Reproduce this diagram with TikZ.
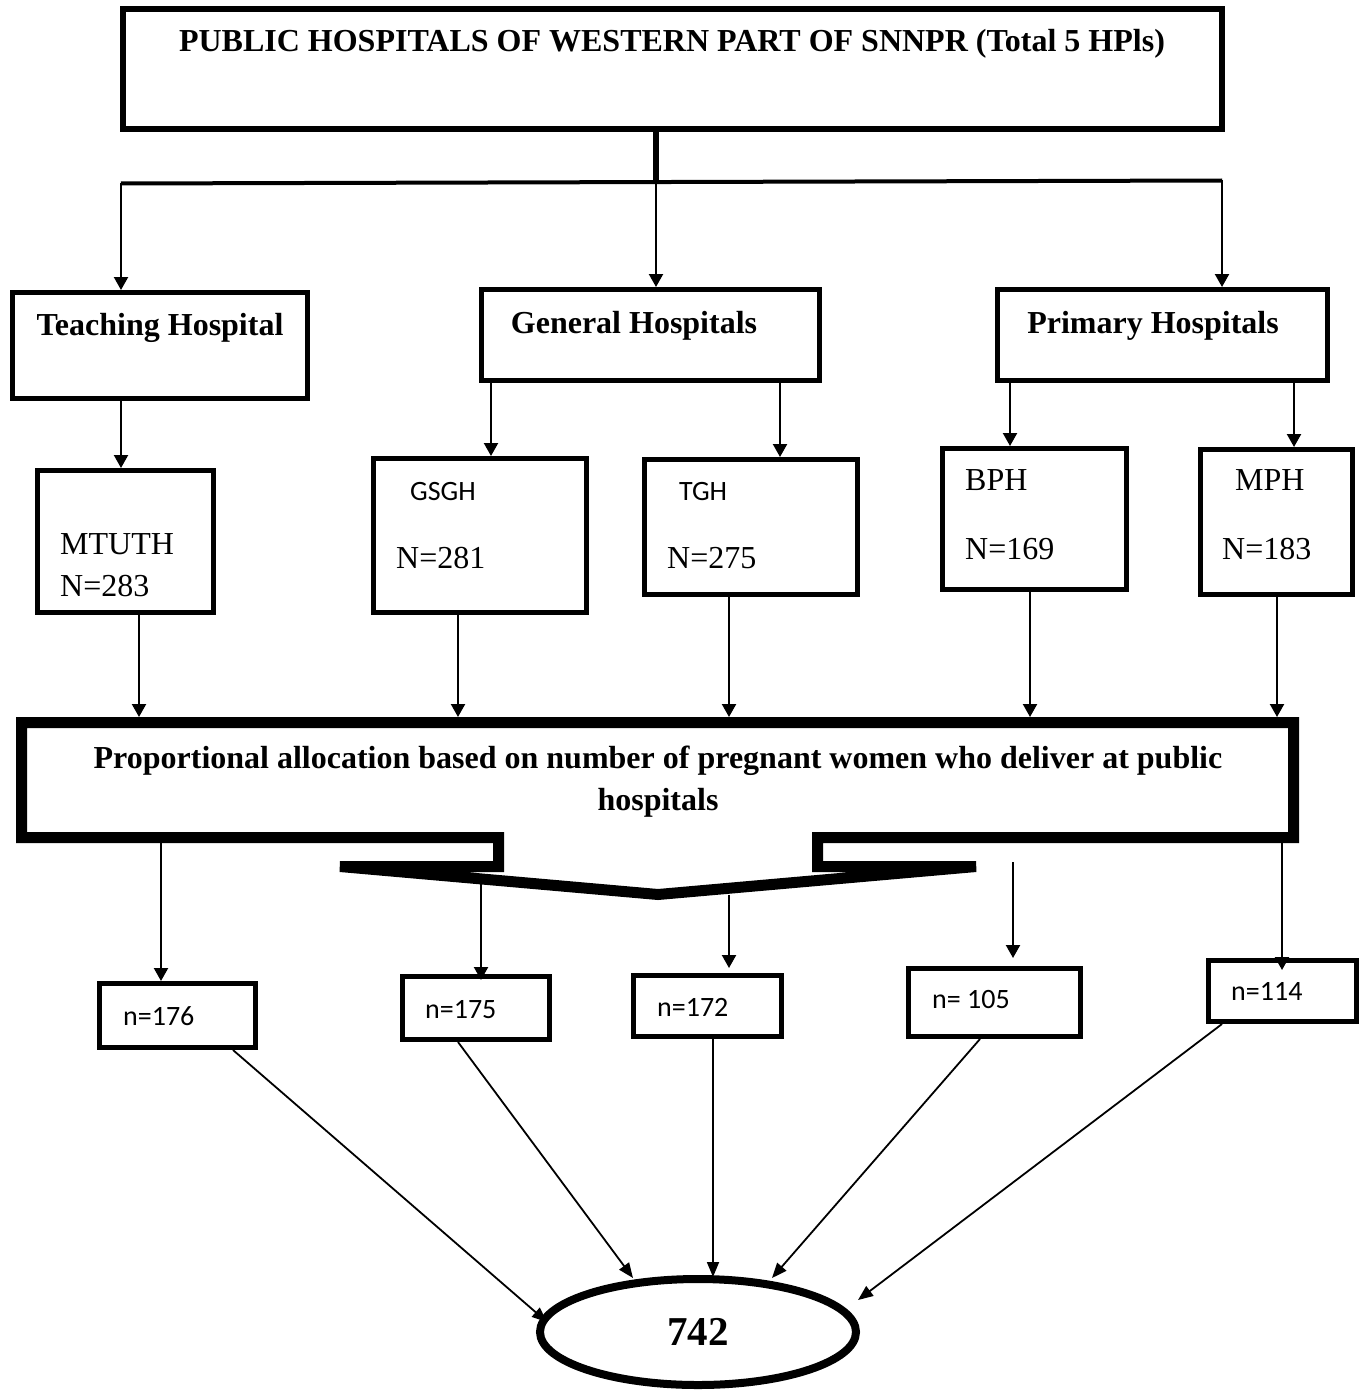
\documentclass[tikz,border=0pt]{standalone}
\usepackage{fontspec}
\setmainfont{Liberation Serif}
\newfontfamily\calibfont{Carlito}
\usetikzlibrary{arrows.meta,calc,shapes.geometric}
\begin{document}
\begin{tikzpicture}[x=1pt,y=-1pt,
  box/.style={draw, line width=5pt, rectangle, inner sep=0pt, outer sep=2.5pt},
  arr/.style={line width=2.2pt, -{Triangle[length=13pt,width=14pt]}},
  thinarr/.style={line width=1.8pt, -{Triangle[length=15pt,width=12pt]}},
  hdr/.style={font=\fontsize{32}{38}\selectfont\bfseries, inner sep=0pt},
  lab/.style={font=\fontsize{32}{38}\selectfont, inner sep=0pt, anchor=base west},
  clab/.style={font=\calibfont\fontsize{28}{34}\selectfont, inner sep=0pt, anchor=base west},
]
\useasboundingbox (0,0) rectangle (1361,1391);

% boxes
\node[box, line width=6pt, outer sep=3pt, minimum width=1099pt, minimum height=120pt] (top) at (672.5,69) {};
\node[hdr, anchor=base] (topT) at (672,52) {PUBLIC HOSPITALS OF WESTERN PART OF SNNPR (Total 5 HPls)};

\node[box, minimum width=295pt, minimum height=106pt] (teach) at (160,345.5) {};
\node[box, minimum width=338pt, minimum height=91pt] (general) at (650.5,335) {};
\node[box, minimum width=330pt, minimum height=91pt] (primary) at (1162.5,335) {};
\node[hdr, anchor=base] (teachT) at (160,335) {Teaching Hospital};
\node[hdr, anchor=base] (generalT) at (634,333) {General Hospitals};
\node[hdr, anchor=base] (primaryT) at (1153,333) {Primary Hospitals};

\node[box, minimum width=176pt, minimum height=142pt] (mtuth) at (125.5,541.5) {};
\node[box, minimum width=213pt, minimum height=154pt] (gsgh) at (480,535.5) {};
\node[box, minimum width=213pt, minimum height=135pt] (tgh) at (751,527) {};
\node[box, minimum width=184pt, minimum height=141pt] (bph) at (1034.5,519) {};
\node[box, minimum width=152pt, minimum height=145pt] (mph) at (1276.5,522) {};

\node[lab] (mtuthA) at (60,554) {MTUTH};
\node[lab] (mtuthB) at (60,596) {N=283};
\node[clab] (gsghA) at (410,500) {GSGH};
\node[lab] (gsghB) at (396,568) {N=281};
\node[clab] (tghA) at (679,500) {TGH};
\node[lab] (tghB) at (667,568) {N=275};
\node[lab] (bphA) at (965,490) {BPH};
\node[lab] (bphB) at (965,559) {N=169};
\node[lab] (mphA) at (1235,490) {MPH};
\node[lab] (mphB) at (1222,559) {N=183};

% big allocation box with notched callout bottom
\node[inner sep=0pt, outer sep=0pt, minimum width=1283pt, minimum height=126pt] (big) at (657.5,780) {};
\draw[line width=11pt, line join=miter]
  (498.5,837.5) -- (21.5,837.5) -- (21.5,722.5) -- (1293.5,722.5) -- (1293.5,837.5)
  -- (817.5,837.5) -- (817.5,866.5) -- (976,866.5) -- (658,894.5) -- (340,866.5)
  -- (498.5,866.5) -- cycle;
\node[hdr, anchor=base] (bigA) at (658,768) {Proportional allocation based on number of pregnant women who deliver at public};
\node[hdr, anchor=base] (bigB) at (658,810) {hospitals};

% sample boxes
\node[box, minimum width=156pt, minimum height=64pt] (n176) at (177.5,1015.5) {};
\node[box, minimum width=147pt, minimum height=63pt] (n175) at (476,1008) {};
\node[box, minimum width=148pt, minimum height=61pt] (n172) at (707.5,1006) {};
\node[box, minimum width=172pt, minimum height=68pt] (n105) at (994.5,1002.5) {};
\node[box, minimum width=148pt, minimum height=61pt] (n114) at (1282.5,991) {};
\node[clab] (n176T) at (123,1025) {n=176};
\node[clab] (n175T) at (425,1018) {n=175};
\node[clab] (n172T) at (657,1016) {n=172};
\node[clab] (n105T) at (932,1008) {n= 105};
\node[clab] (n114T) at (1231,1000) {n=114};

\node[draw, ellipse, line width=8pt, inner sep=0pt, outer sep=4pt, minimum width=316pt, minimum height=106pt,
      font=\fontsize{41}{48}\selectfont\bfseries] (ell) at (698,1332) {742};

% top connectors
\coordinate (barL) at (121,183.5);
\coordinate (barM) at (656,182);
\coordinate (barR) at (1222,180.5);
\draw[line width=6pt] (top.south -| barM) -- (barM);
\draw[line width=4pt, line cap=square] (barL) -- (barR);
\draw[arr] (barL) -- (teach.north -| barL);
\draw[arr] (barM) -- (general.north -| barM);
\draw[arr] (barR) -- (primary.north -| barR);

\draw[arr] (teach.south -| 121,0) -- (mtuth.north -| 121,0);
\draw[arr] (general.south -| 491,0) -- (gsgh.north -| 491,0);
\draw[arr] (general.south -| 780,0) -- (tgh.north -| 780,0);
\draw[arr] (primary.south -| 1010,0) -- (bph.north -| 1010,0);
\draw[arr] (primary.south -| 1294,0) -- (mph.north -| 1294,0);

\draw[arr] (mtuth.south -| 139,0) -- (big.north -| 139,0);
\draw[arr] (gsgh.south -| 458,0) -- (big.north -| 458,0);
\draw[arr] (tgh.south -| 729,0) -- (big.north -| 729,0);
\draw[arr] (bph.south -| 1030,0) -- (big.north -| 1030,0);
\draw[arr] (mph.south -| 1277,0) -- (big.north -| 1277,0);

% allocation to samples
\coordinate (c175) at (481,884);
\coordinate (c172) at (729,895);
\coordinate (c105) at (1013,862);
\draw[arr] (big.south -| 161,0) -- (n176.north -| 161,0);
\draw[arr] (c175) -- ($(n175.north -| c175)+(0,6)$);
\draw[arr] (c172) -- ($(n172.north -| c172)+(0,-5)$);
\draw[arr] (c105) -- ($(n105.north -| c105)+(0,-8)$);
\draw[arr] (big.south -| 1282,0) -- ($(n114.north -| 1282,0)+(0,12)$);

% samples to total
\draw[thinarr] (n176.south -| 233,0) -- ($(ell)+(-151,-10)$);
\draw[thinarr] (n175.south -| 458,0) -- ($(ell)+(-65,-54)$);
\draw[thinarr] (n172.south -| 713,0) -- ($(ell)+(15,-55)$);
\draw[thinarr] (n105.south -| 980,0) -- ($(ell)+(74,-54)$);
\draw[thinarr] (n114.south -| 1222,0) -- ($(ell)+(160,-32)$);
\end{tikzpicture}
\end{document}
